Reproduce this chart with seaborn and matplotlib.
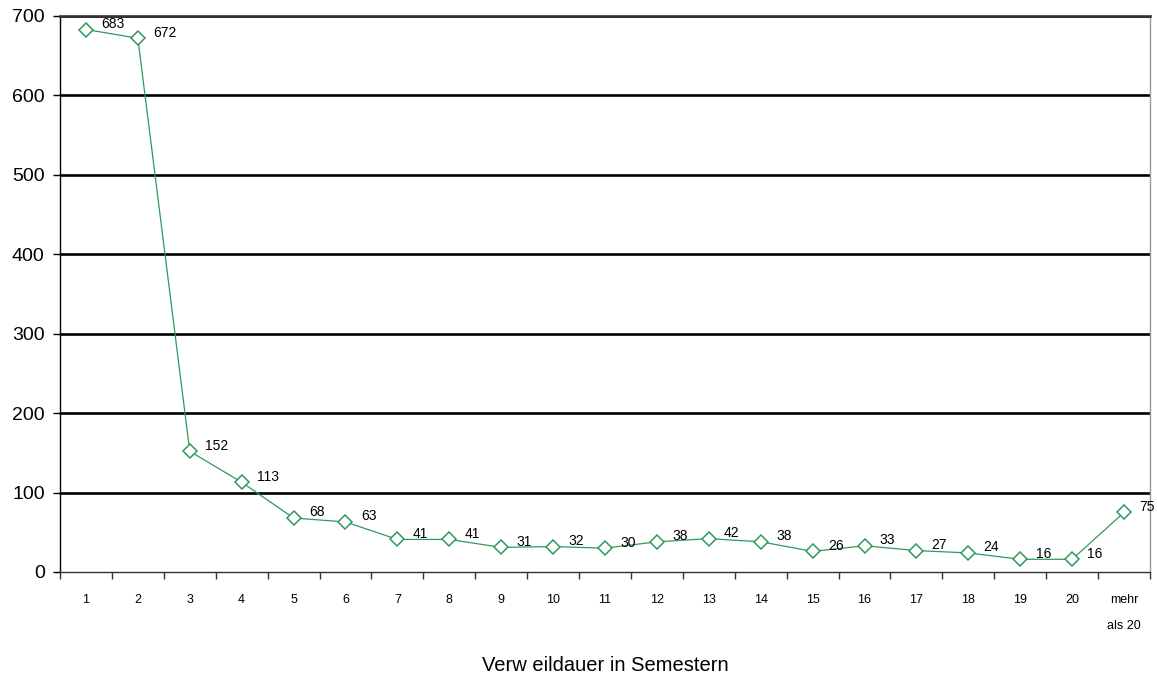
import matplotlib
matplotlib.use("Agg")
import matplotlib.pyplot as plt
import seaborn as sns
import pandas as pd
import numpy as np

categories = ["1", "2", "3", "4", "5", "6", "7", "8", "9", "10", "11", "12", "13",
              "14", "15", "16", "17", "18", "19", "20", "mehr\n\nals 20"]
values = [683, 672, 152, 113, 68, 63, 41, 41, 31, 32, 30, 38, 42, 38, 26, 33, 27, 24, 16, 16, 75]
y_ticks = [0, 100, 200, 300, 400, 500, 600, 700]

sns.set_theme(style="white")
plt.rcParams['font.family'] = ['Liberation Sans', 'DejaVu Sans']
plt.rcParams['text.color'] = 'black'
plt.rcParams['xtick.color'] = 'black'
plt.rcParams['ytick.color'] = 'black'
plt.rcParams['axes.labelcolor'] = 'black'

df = pd.DataFrame({"pos": np.arange(len(categories)), "value": values})

fig = plt.figure(figsize=(11.57, 6.81), dpi=100)
ax = fig.add_axes([60/1157, 109/681, 1090/1157, 556/681])

for yv in y_ticks[1:]:
    ax.axhline(yv, color="black", lw=1.9, zorder=1)

green = "#2e9a5c"
sns.lineplot(data=df, x="pos", y="value", ax=ax, color=green, lw=0.9,
             marker="D", markersize=7, markerfacecolor="white",
             markeredgecolor=green, markeredgewidth=1.1, zorder=3)

for i, v in enumerate(values):
    ax.annotate(str(v), (i, v), xytext=(11, 4), textcoords="offset points",
                fontsize=10, color="black", va="center", ha="left", annotation_clip=False)

ax.set_xlim(-0.5, len(categories) - 0.5)
ax.set_ylim(0, 700)
ax.set_yticks(y_ticks)
ax.set_yticklabels([str(t) for t in y_ticks], fontsize=14)
ax.set_xticks(np.arange(len(categories)))
ax.set_xticklabels(categories, fontsize=9, va="top", linespacing=1.1)
ax.set_xticks(np.arange(len(categories) + 1) - 0.5, minor=True)
ax.tick_params(axis="x", which="major", length=0, pad=16)
ax.tick_params(axis="x", which="minor", length=5, width=1, color="#333333", direction="out", bottom=True)
ax.tick_params(axis="y", which="major", length=5, width=1, color="black", direction="out", left=True, pad=6)

for s in ["left", "bottom", "right", "top"]:
    ax.spines[s].set_visible(True)
ax.spines["left"].set_color("black")
ax.spines["left"].set_linewidth(1.0)
ax.spines["bottom"].set_color("#333333")
ax.spines["bottom"].set_linewidth(1.0)
ax.spines["right"].set_color("#999999")
ax.spines["right"].set_linewidth(1.0)
ax.spines["top"].set_color("#333333")
ax.spines["top"].set_linewidth(1.9)

ax.set_xlabel("Verw eildauer in Semestern", fontsize=14.5, labelpad=17)
ax.set_ylabel("")

fig.savefig("out.png", dpi=100)
